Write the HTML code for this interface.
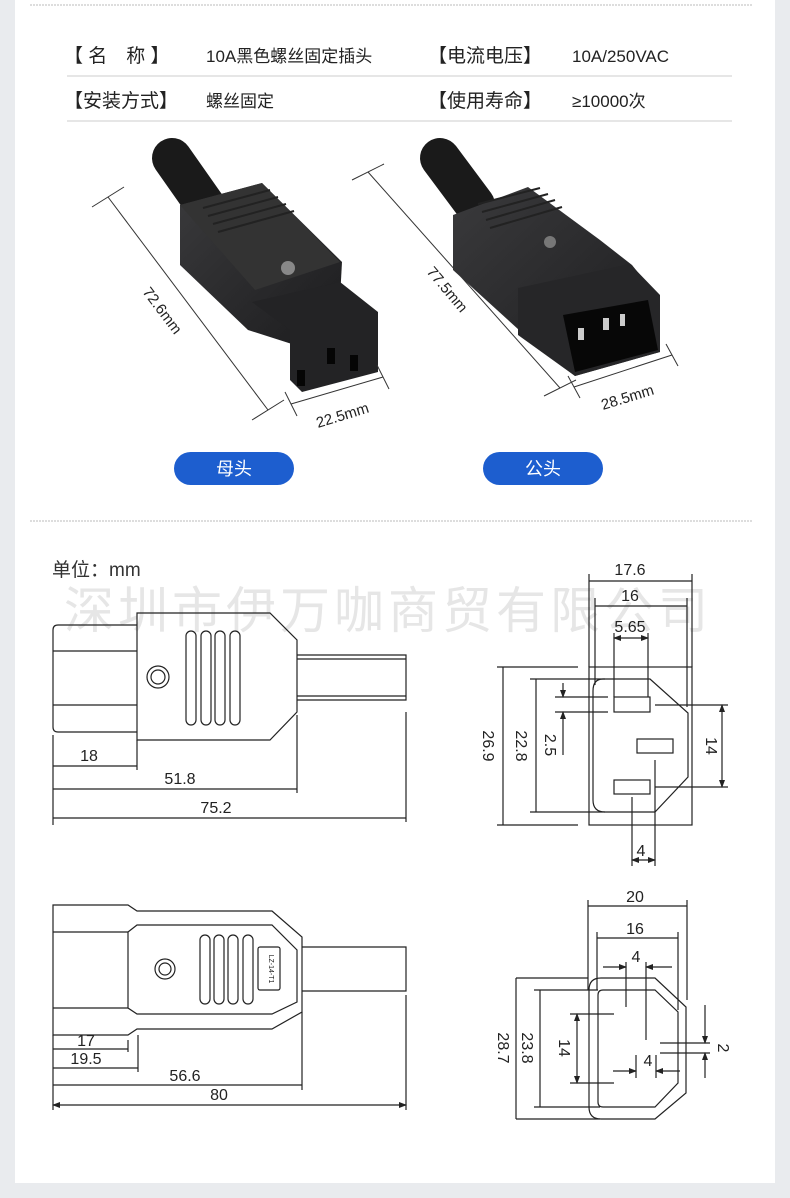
<!DOCTYPE html>
<html><head><meta charset="utf-8"><style>
html,body{margin:0;padding:0;background:#e9ebee;}
svg{display:block}
text{font-family:"Liberation Sans","Noto Sans CJK SC",sans-serif;}
</style></head><body>
<svg width="790" height="1198" viewBox="0 0 790 1198" xmlns="http://www.w3.org/2000/svg">
<defs>
<marker id="a" markerWidth="8" markerHeight="6" refX="7" refY="3" orient="auto-start-reverse" markerUnits="userSpaceOnUse"><path d="M0,0 L8,3 L0,6z" fill="#222"/></marker>
<linearGradient id="g1" x1="0" y1="0" x2="1" y2="1"><stop offset="0" stop-color="#3a3a3c"/><stop offset="1" stop-color="#1c1c1e"/></linearGradient>
</defs>
<rect x="0" y="0" width="790" height="1198" fill="#e9ebee"/>
<rect x="15" y="0" width="760" height="1183" fill="#fff"/>
<line x1="30" y1="5" x2="752" y2="5" stroke="#bbb" stroke-dasharray="2,1"/>
<line x1="30" y1="521" x2="752" y2="521" stroke="#bbb" stroke-dasharray="2,1"/>

<!-- table -->
<g font-size="19" fill="#222">
<text x="64" y="62">【 名　称 】</text>
<text x="206" y="62" font-size="17">10A黑色螺丝固定插头</text>
<text x="428" y="62">【电流电压】</text>
<text x="572" y="62" font-size="17">10A/250VAC</text>
<text x="64" y="107">【安装方式】</text>
<text x="206" y="107" font-size="17">螺丝固定</text>
<text x="428" y="107">【使用寿命】</text>
<text x="572" y="107" font-size="17">≥10000次</text>
</g>
<line x1="67" y1="76" x2="732" y2="76" stroke="#ccc"/>
<line x1="67" y1="121" x2="732" y2="121" stroke="#ccc"/>

<!-- female photo -->
<g>
<line x1="172" y1="158" x2="205" y2="205" stroke="#1a1a1a" stroke-width="40" stroke-linecap="round"/>
<polygon points="180,205 262,183 342,262 338,335 295,345 248,330 180,265" fill="url(#g1)"/>
<polygon points="180,205 262,183 340,262 255,290" fill="#333"/>
<g stroke="#222" stroke-width="2"><line x1="203" y1="208" x2="270" y2="190"/><line x1="208" y1="216" x2="278" y2="197"/><line x1="213" y1="224" x2="286" y2="204"/><line x1="218" y1="232" x2="294" y2="211"/></g>
<circle cx="288" cy="268" r="7" fill="#888"/>
<polygon points="252,302 340,282 378,312 378,372 302,392 290,380 290,330" fill="#232325"/>
<rect x="297" y="370" width="8" height="16" fill="#050505"/><rect x="327" y="348" width="8" height="16" fill="#050505"/><rect x="350" y="355" width="8" height="16" fill="#050505"/>
</g>
<!-- male photo -->
<g>
<line x1="440" y1="158" x2="475" y2="205" stroke="#1a1a1a" stroke-width="40" stroke-linecap="round"/>
<polygon points="453,215 528,187 600,240 632,265 660,300 660,352 575,376 530,340 453,270" fill="url(#g1)"/>
<g stroke="#222" stroke-width="2"><line x1="478" y1="204" x2="540" y2="188"/><line x1="482" y1="212" x2="548" y2="194"/><line x1="486" y1="220" x2="555" y2="200"/><line x1="490" y1="228" x2="562" y2="207"/></g>
<circle cx="550" cy="242" r="6" fill="#777"/>
<polygon points="518,288 630,264 660,295 660,352 575,376 518,335" fill="#262628"/>
<polygon points="563,315 648,300 658,350 575,372" fill="#070707"/>
<rect x="578" y="328" width="6" height="12" fill="#ccc"/><rect x="603" y="318" width="6" height="12" fill="#ccc"/><rect x="620" y="314" width="5" height="12" fill="#ccc"/>
</g>
<!-- photo dims -->
<g stroke="#333" stroke-width="1" fill="none">
<line x1="108" y1="197" x2="268" y2="410"/><line x1="92" y1="207" x2="124" y2="187"/><line x1="252" y1="420" x2="284" y2="400"/>
<line x1="291" y1="404" x2="383" y2="377"/><line x1="285" y1="392" x2="297" y2="416"/><line x1="377" y1="365" x2="389" y2="389"/>
<line x1="368" y1="172" x2="560" y2="388"/><line x1="352" y1="180" x2="384" y2="164"/><line x1="544" y1="396" x2="576" y2="380"/>
<line x1="574" y1="387" x2="672" y2="355"/><line x1="568" y1="376" x2="580" y2="398"/><line x1="666" y1="344" x2="678" y2="366"/>
</g>
<g font-size="15" fill="#222">
<text x="142" y="292" transform="rotate(53 142 292)">72.6mm</text>
<text x="318" y="428" transform="rotate(-17 318 428)">22.5mm</text>
<text x="426" y="272" transform="rotate(50 426 272)">77.5mm</text>
<text x="603" y="410" transform="rotate(-17 603 410)">28.5mm</text>
</g>
<rect x="174" y="452" width="120" height="33" rx="16.5" fill="#1d5ecf"/>
<rect x="483" y="452" width="120" height="33" rx="16.5" fill="#1d5ecf"/>
<text x="234" y="475" text-anchor="middle" font-size="18" fill="#fff">母头</text>
<text x="543" y="475" text-anchor="middle" font-size="18" fill="#fff">公头</text>

<!-- watermark & unit -->
<text x="52" y="576" font-size="19" fill="#333">单位：mm</text>
<text x="64" y="628" font-size="50" fill="#e6e6e6" letter-spacing="4">深圳市伊万咖商贸有限公司</text>

<g stroke="#222" stroke-width="1.2" fill="none">
<!-- side view 1 -->
<path d="M137,625 L58,625 Q53,625 53,630 L53,727 Q53,732 58,732 L137,732"/>
<line x1="53" y1="651" x2="137" y2="651"/><line x1="53" y1="705" x2="137" y2="705"/>
<path d="M137,613 L270,613 L297,640 L297,712 L270,740 L137,740 Z"/>
<path d="M297,655 L406,655 L406,700 L297,700"/><line x1="297" y1="659" x2="406" y2="659"/><line x1="297" y1="696" x2="406" y2="696"/>
<circle cx="158" cy="677" r="11"/><circle cx="158" cy="677" r="7"/>
<rect x="186" y="631" width="10" height="94" rx="5"/><rect x="201" y="631" width="10" height="94" rx="5"/><rect x="215" y="631" width="10" height="94" rx="5"/><rect x="230" y="631" width="10" height="94" rx="5"/>
<line x1="53" y1="735" x2="53" y2="825"/><line x1="137" y1="740" x2="137" y2="770"/><line x1="297" y1="715" x2="297" y2="793"/><line x1="406" y1="712" x2="406" y2="822"/>
<line x1="53" y1="766" x2="137" y2="766"/><line x1="53" y1="789" x2="297" y2="789"/><line x1="53" y1="818" x2="406" y2="818"/>

<!-- front view 1 -->
<rect x="589" y="667" width="103" height="158"/>
<path d="M603,679 L650,679 L688,713 L688,777 L655,812 L605,812 Q593,812 593,800 L593,691 Q593,679 603,679 Z"/>
<rect x="614" y="697" width="36" height="15"/><rect x="637" y="739" width="36" height="14"/><rect x="614" y="780" width="36" height="14"/>
<line x1="589" y1="574" x2="589" y2="667"/><line x1="692" y1="574" x2="692" y2="667"/><line x1="589" y1="581" x2="692" y2="581"/>
<line x1="595" y1="598" x2="595" y2="685"/><line x1="687" y1="598" x2="687" y2="707"/><line x1="595" y1="606" x2="687" y2="606"/>
<line x1="614" y1="633" x2="614" y2="697"/><line x1="648" y1="633" x2="648" y2="697"/><line x1="614" y1="638" x2="648" y2="638" marker-start="url(#a)" marker-end="url(#a)"/>
<line x1="497" y1="667" x2="578" y2="667"/><line x1="497" y1="825" x2="578" y2="825"/><line x1="503" y1="667" x2="503" y2="825"/>
<line x1="530" y1="679" x2="605" y2="679"/><line x1="530" y1="812" x2="605" y2="812"/><line x1="536" y1="679" x2="536" y2="812"/>
<line x1="555" y1="697" x2="608" y2="697"/><line x1="555" y1="712" x2="608" y2="712"/>
<line x1="563" y1="683" x2="563" y2="697" marker-end="url(#a)"/><line x1="563" y1="755" x2="563" y2="712" marker-end="url(#a)"/>
<line x1="655" y1="705" x2="728" y2="705"/><line x1="655" y1="787" x2="728" y2="787"/><line x1="722" y1="705" x2="722" y2="787" marker-start="url(#a)" marker-end="url(#a)"/>
<line x1="632" y1="797" x2="632" y2="866"/><line x1="655" y1="760" x2="655" y2="866"/><line x1="632" y1="860" x2="655" y2="860" marker-start="url(#a)" marker-end="url(#a)"/>

<!-- side view 2 -->
<path d="M53,905 L128,905 L137,911 L272,911 L302,937 L302,1012 L272,1029 L137,1029 L128,1035 L53,1035 Z"/>
<line x1="53" y1="932" x2="128" y2="932"/><line x1="53" y1="1008" x2="128" y2="1008"/>
<path d="M128,932 L137,925 L272,925 L297,950 L297,1002 L272,1014 L137,1014 L128,1008 Z"/>
<path d="M302,947 L406,947 L406,991 L302,991"/>
<circle cx="165" cy="969" r="10"/><circle cx="165" cy="969" r="6"/>
<rect x="200" y="935" width="10" height="69" rx="5"/><rect x="214" y="935" width="10" height="69" rx="5"/><rect x="228" y="935" width="10" height="69" rx="5"/><rect x="243" y="935" width="10" height="69" rx="5"/>
<rect x="258" y="947" width="22" height="43" rx="2"/>
<line x1="53" y1="1035" x2="53" y2="1110"/><line x1="128" y1="1040" x2="128" y2="1052"/><line x1="138" y1="1035" x2="138" y2="1072"/>
<line x1="302" y1="1012" x2="302" y2="1090"/><line x1="406" y1="995" x2="406" y2="1110"/>
<line x1="53" y1="1049" x2="128" y2="1049"/><line x1="53" y1="1068" x2="138" y2="1068"/><line x1="53" y1="1085" x2="302" y2="1085"/>
<line x1="53" y1="1105" x2="406" y2="1105" marker-start="url(#a)" marker-end="url(#a)"/>

<!-- front view 2 -->
<path d="M601,978 L655,978 L686,1007 L686,1093 L655,1119 L601,1119 Q589,1119 589,1107 L589,990 Q589,978 601,978 Z"/>
<path d="M603,990 L655,990 L678,1012 L678,1083 L655,1107 L603,1107 Q598,1107 598,1102 L598,995 Q598,990 603,990 Z"/>
<line x1="588" y1="900" x2="588" y2="990"/><line x1="687" y1="900" x2="687" y2="1000"/><line x1="588" y1="906" x2="687" y2="906"/>
<line x1="597" y1="932" x2="597" y2="990"/><line x1="678" y1="932" x2="678" y2="1010"/><line x1="597" y1="938" x2="678" y2="938"/>
<line x1="626" y1="962" x2="626" y2="1007"/><line x1="646" y1="962" x2="646" y2="1040"/>
<line x1="603" y1="967" x2="626" y2="967" marker-end="url(#a)"/><line x1="672" y1="967" x2="646" y2="967" marker-end="url(#a)"/>
<line x1="516" y1="978" x2="588" y2="978"/><line x1="516" y1="1119" x2="600" y2="1119"/><line x1="516" y1="978" x2="516" y2="1119"/>
<line x1="534" y1="990" x2="598" y2="990"/><line x1="534" y1="1107" x2="600" y2="1107"/><line x1="540" y1="990" x2="540" y2="1107"/>
<line x1="570" y1="1014" x2="614" y2="1014"/><line x1="570" y1="1083" x2="614" y2="1083"/><line x1="577" y1="1014" x2="577" y2="1083" marker-start="url(#a)" marker-end="url(#a)"/>
<line x1="660" y1="1043" x2="710" y2="1043"/><line x1="660" y1="1053" x2="710" y2="1053"/>
<line x1="705" y1="1005" x2="705" y2="1043" marker-end="url(#a)"/><line x1="705" y1="1078" x2="705" y2="1053" marker-end="url(#a)"/>
<line x1="636" y1="1055" x2="636" y2="1078"/><line x1="656" y1="1055" x2="656" y2="1078"/>
<line x1="613" y1="1071" x2="636" y2="1071" marker-end="url(#a)"/><line x1="680" y1="1071" x2="656" y2="1071" marker-end="url(#a)"/>
</g>

<g font-size="16" fill="#222" text-anchor="middle">
<text x="89" y="761">18</text><text x="180" y="784">51.8</text><text x="216" y="813">75.2</text>
<text x="630" y="575">17.6</text><text x="630" y="601">16</text><text x="630" y="632">5.65</text>
<text x="641" y="856">4</text>
<text x="483" y="746" transform="rotate(90 483 746)">26.9</text>
<text x="516" y="746" transform="rotate(90 516 746)">22.8</text>
<text x="545" y="745" transform="rotate(90 545 745)">2.5</text>
<text x="706" y="746" transform="rotate(90 706 746)">14</text>
<text x="86" y="1046">17</text><text x="86" y="1064">19.5</text><text x="185" y="1081">56.6</text><text x="219" y="1100">80</text>
<text x="635" y="902">20</text><text x="635" y="934">16</text><text x="636" y="962">4</text><text x="648" y="1066">4</text>
<text x="498" y="1048" transform="rotate(90 498 1048)">28.7</text>
<text x="522" y="1048" transform="rotate(90 522 1048)">23.8</text>
<text x="559" y="1048" transform="rotate(90 559 1048)">14</text>
<text x="718" y="1048" transform="rotate(90 718 1048)">2</text>
<text x="269" y="969" font-size="7" transform="rotate(90 269 969)">LZ-14-T1</text>
</g>
</svg>
</body></html>
